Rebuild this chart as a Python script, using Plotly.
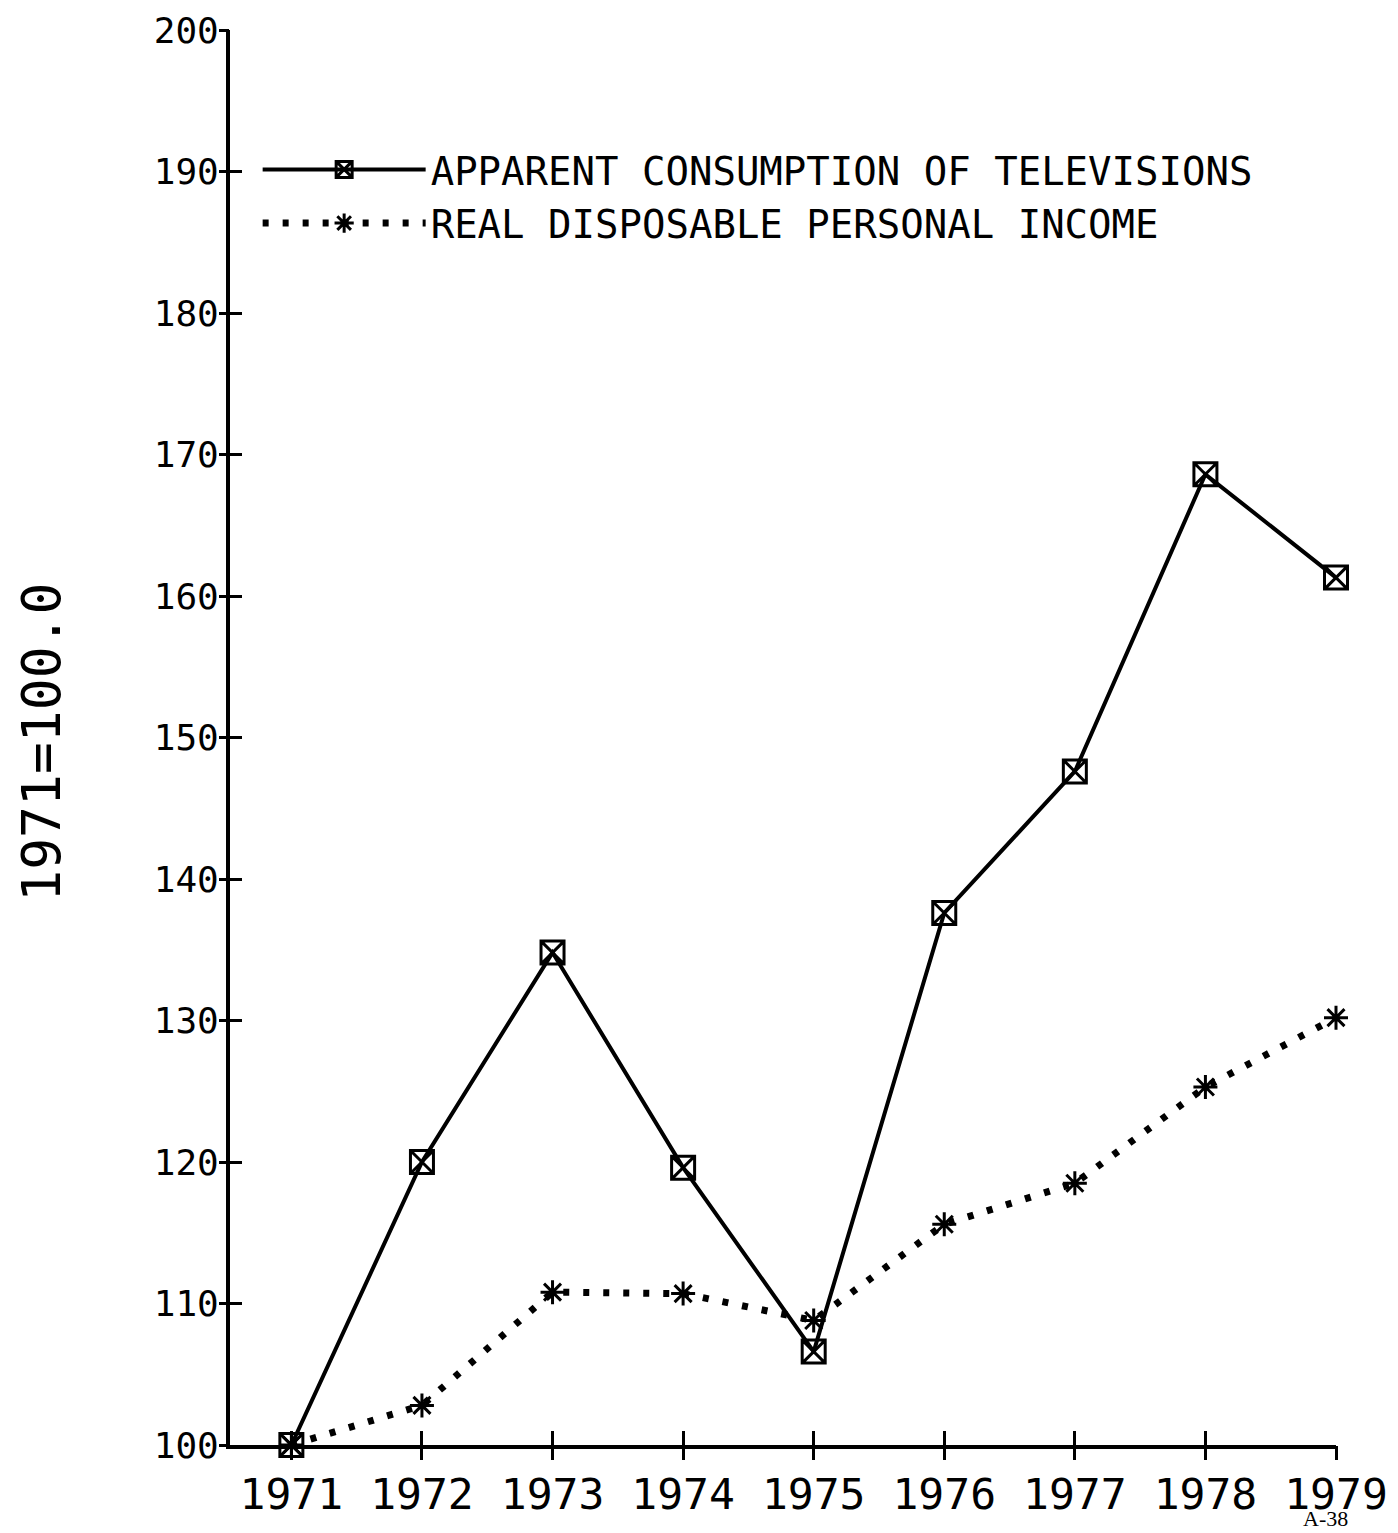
import plotly.graph_objects as go

years = [1971, 1972, 1973, 1974, 1975, 1976, 1977, 1978, 1979]
tv_consumption = [100.0, 120.0, 134.8, 119.6, 106.6, 137.6, 147.6, 168.6, 161.3]
real_income = [100.0, 102.8, 110.8, 110.7, 108.8, 115.6, 118.5, 125.3, 130.2]
y_ticks = [100, 110, 120, 130, 140, 150, 160, 170, 180, 190, 200]

FONT = "DejaVu Sans Mono"
X_RANGE = [1970.53, 1979]
Y_RANGE = [100, 200]

fig = go.Figure()
fig.add_trace(go.Scatter(
    x=years, y=tv_consumption, mode="lines+markers",
    name="APPARENT CONSUMPTION OF TELEVISIONS",
    line=dict(color="black", width=4),
    marker=dict(symbol="square-x-open", size=23, color="black", line=dict(width=3, color="black")),
    cliponaxis=False,
))
fig.add_trace(go.Scatter(
    x=years, y=real_income, mode="lines+markers",
    name="REAL DISPOSABLE PERSONAL INCOME",
    line=dict(color="black", width=7, dash="6px,14px"),
    marker=dict(symbol="asterisk-open", size=20, color="black", line=dict(width=3, color="black")),
    cliponaxis=False,
))
# empty trace so the overlay axes (used for the crossing tick marks) get drawn
fig.add_trace(go.Scatter(x=[], y=[], xaxis="x2", yaxis="y2", showlegend=False,
                         hoverinfo="skip"))

axis_common = dict(showgrid=False, zeroline=False)
fig.update_layout(
    width=1390, height=1525,
    margin=dict(l=222, r=62, t=22, b=88, autoexpand=False),
    paper_bgcolor="white", plot_bgcolor="white",
    font=dict(family=FONT, color="black"),
    xaxis=dict(range=X_RANGE, tickvals=years, ticktext=[str(y) for y in years],
               showline=True, linewidth=4, linecolor="black",
               ticks="inside", ticklen=14, tickwidth=3, tickcolor="black",
               ticklabelstandoff=8,
               tickfont=dict(size=43, family=FONT), **axis_common),
    xaxis2=dict(range=X_RANGE, tickvals=years, overlaying="x", anchor="y", side="bottom",
                showticklabels=False, showline=False,
                ticks="outside", ticklen=14, tickwidth=3, tickcolor="black", **axis_common),
    yaxis=dict(range=Y_RANGE, tickvals=y_ticks,
               showline=True, linewidth=4, linecolor="black",
               ticks="inside", ticklen=12, tickwidth=3, tickcolor="black",
               tickfont=dict(size=36, family=FONT), **axis_common),
    yaxis2=dict(range=Y_RANGE, tickvals=y_ticks, overlaying="y", anchor="x", side="left",
                showticklabels=False, showline=False,
                ticks="outside", ticklen=10, tickwidth=3, tickcolor="black", **axis_common),
    legend=dict(x=0.025, y=0.924, xanchor="left", yanchor="top",
                font=dict(size=39, family=FONT), itemwidth=163,
                bgcolor="rgba(0,0,0,0)", tracegroupgap=0),
    showlegend=True,
)

fig.add_annotation(text="1971=100.0", textangle=-90, xref="paper", yref="paper",
                   x=-0.170, y=0.497, xanchor="center", yanchor="middle",
                   showarrow=False, font=dict(size=53, family=FONT))
fig.add_annotation(text="A-38", xref="paper", yref="paper", x=1.013, y=-0.0622,
                   xanchor="right", yanchor="bottom", showarrow=False,
                   font=dict(size=22, family="Liberation Serif"))

fig.write_html("out.html")
